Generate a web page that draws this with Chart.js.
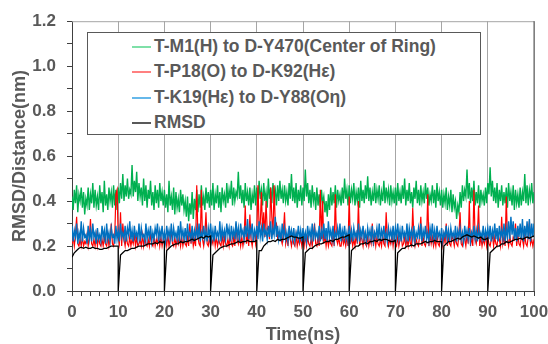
<!DOCTYPE html>
<html>
<head>
<meta charset="utf-8">
<script src="https://cdn.jsdelivr.net/npm/chart.js@4/dist/chart.umd.min.js"></script>
<style>
  html, body { margin: 0; padding: 0; background: #fff; overflow: hidden; }
  #wrap { position: relative; width: 548px; height: 344px; }
  #legend {
    position: absolute; left: 87px; top: 32px; width: 392px; height: 101px;
    border: 1px solid #595959; background: #fff;
    font: bold 17.5px "Liberation Sans", Arial, sans-serif; color: #595959;
  }
  .item { position: absolute; left: 44px; height: 20px; line-height: 20px; white-space: nowrap; }
  .item span { display: inline-block; width: 19px; height: 2px; vertical-align: middle; margin-right: 3px; }
</style>
</head>
<body>
<div id="wrap">
  <canvas id="myChart" width="548" height="344"></canvas>
  <div id="legend"></div>
</div>
<script>
// distances sampled every 0.25 ns (0..100 ns)
var distStep = 0.25;
// RMSD: ten 10 ns runs, sampled every 0.5 ns, each restarting from its reference frame
var rmsdStep = 0.5;
var runLength = 10;

var ringDist = [
  0.42,0.36,0.45,0.39,0.47,0.35,0.43,0.40,0.46,0.37,0.44,0.34,0.41,0.38,0.46,0.36,0.43,0.39,0.48,0.37,
  0.45,0.38,0.42,0.36,0.47,0.39,0.44,0.35,0.49,0.38,0.43,0.36,0.46,0.40,0.44,0.37,0.47,0.38,0.45,0.36,
  0.46,0.39,0.48,0.41,0.52,0.40,0.47,0.42,0.50,0.41,0.45,0.43,0.56,0.42,0.49,0.44,0.53,0.40,0.48,0.42,
  0.46,0.38,0.50,0.40,0.47,0.37,0.45,0.41,0.49,0.38,0.44,0.36,0.47,0.39,0.45,0.37,0.48,0.40,0.44,0.38,
  0.45,0.37,0.43,0.35,0.49,0.38,0.42,0.36,0.46,0.34,0.44,0.37,0.41,0.35,0.45,0.38,0.43,0.36,0.40,0.33,
  0.42,0.31,0.39,0.34,0.44,0.32,0.41,0.36,0.45,0.35,0.43,0.37,0.47,0.38,0.42,0.36,0.46,0.39,0.44,0.37,
  0.45,0.38,0.48,0.36,0.43,0.39,0.47,0.37,0.44,0.35,0.46,0.40,0.43,0.37,0.48,0.39,0.45,0.41,0.49,0.38,
  0.46,0.40,0.44,0.42,0.53,0.41,0.47,0.39,0.45,0.37,0.48,0.40,0.44,0.38,0.46,0.36,0.43,0.39,0.47,0.38,
  0.46,0.39,0.49,0.41,0.45,0.38,0.48,0.40,0.44,0.37,0.50,0.41,0.46,0.39,0.48,0.42,0.45,0.38,0.47,0.40,
  0.49,0.41,0.45,0.39,0.47,0.40,0.44,0.38,0.48,0.41,0.52,0.40,0.46,0.39,0.48,0.37,0.45,0.40,0.47,0.38,
  0.46,0.40,0.54,0.42,0.48,0.39,0.45,0.37,0.47,0.40,0.44,0.36,0.46,0.38,0.43,0.37,0.45,0.39,0.42,0.35,
  0.40,0.33,0.43,0.36,0.46,0.38,0.44,0.39,0.47,0.37,0.45,0.40,0.43,0.38,0.46,0.39,0.50,0.41,0.45,0.38,
  0.47,0.39,0.45,0.41,0.48,0.38,0.44,0.40,0.46,0.37,0.49,0.40,0.45,0.39,0.47,0.41,0.51,0.40,0.46,0.38,
  0.44,0.40,0.48,0.39,0.45,0.41,0.47,0.38,0.44,0.40,0.49,0.39,0.46,0.41,0.45,0.38,0.47,0.40,0.44,0.39,
  0.46,0.38,0.48,0.40,0.44,0.39,0.47,0.41,0.50,0.38,0.45,0.40,0.48,0.39,0.44,0.37,0.46,0.41,0.49,0.39,
  0.45,0.38,0.47,0.40,0.44,0.39,0.48,0.41,0.46,0.38,0.43,0.40,0.47,0.39,0.45,0.37,0.48,0.40,0.44,0.38,
  0.45,0.37,0.43,0.39,0.46,0.36,0.42,0.38,0.45,0.35,0.43,0.37,0.40,0.32,0.38,0.35,0.44,0.37,0.47,0.40,
  0.45,0.42,0.54,0.41,0.48,0.39,0.46,0.40,0.49,0.38,0.44,0.39,0.47,0.37,0.45,0.40,0.43,0.38,0.46,0.39,
  0.48,0.43,0.55,0.42,0.49,0.40,0.46,0.39,0.48,0.37,0.45,0.40,0.47,0.38,0.44,0.39,0.46,0.37,0.48,0.40,
  0.44,0.38,0.47,0.36,0.45,0.39,0.43,0.37,0.46,0.38,0.44,0.40,0.52,0.39,0.47,0.38,0.45,0.41,0.48,0.39,
  0.44
];

var p18Dist = [
  0.21,0.24,0.20,0.25,0.33,0.21,0.20,0.23,0.20,0.24,0.20,0.22,0.21,0.25,0.20,0.24,0.32,0.21,0.20,0.23,
  0.20,0.25,0.20,0.24,0.21,0.20,0.23,0.20,0.24,0.21,0.20,0.25,0.20,0.23,0.30,0.21,0.20,0.24,0.43,0.45,
  0.24,0.21,0.35,0.20,0.30,0.23,0.20,0.25,0.21,0.20,0.24,0.20,0.23,0.21,0.25,0.20,0.24,0.20,0.21,0.23,
  0.20,0.25,0.20,0.24,0.21,0.20,0.23,0.20,0.26,0.21,0.20,0.24,0.20,0.23,0.21,0.25,0.20,0.24,0.20,0.23,
  0.21,0.24,0.20,0.25,0.20,0.23,0.27,0.21,0.20,0.24,0.20,0.23,0.21,0.25,0.20,0.24,0.20,0.23,0.21,0.20,
  0.24,0.20,0.30,0.21,0.25,0.20,0.23,0.20,0.47,0.24,0.21,0.20,0.45,0.23,0.20,0.25,0.35,0.21,0.20,0.24,
  0.20,0.23,0.21,0.25,0.20,0.24,0.20,0.23,0.21,0.20,0.25,0.20,0.24,0.21,0.20,0.23,0.20,0.26,0.21,0.20,
  0.24,0.20,0.30,0.23,0.21,0.25,0.20,0.24,0.20,0.23,0.38,0.21,0.25,0.20,0.34,0.23,0.20,0.24,0.26,0.21,
  0.25,0.47,0.28,0.30,0.44,0.26,0.35,0.24,0.40,0.27,0.28,0.23,0.46,0.33,0.25,0.47,0.29,0.30,0.24,0.26,
  0.25,0.23,0.21,0.26,0.35,0.21,0.24,0.20,0.28,0.23,0.20,0.24,0.21,0.20,0.25,0.20,0.23,0.21,0.24,0.20,
  0.23,0.20,0.25,0.20,0.24,0.21,0.20,0.23,0.20,0.25,0.30,0.21,0.20,0.24,0.20,0.45,0.23,0.40,0.21,0.25,
  0.20,0.24,0.20,0.23,0.21,0.20,0.25,0.20,0.43,0.23,0.21,0.24,0.20,0.20,0.25,0.21,0.23,0.20,0.24,0.20,
  0.42,0.21,0.24,0.20,0.23,0.20,0.25,0.21,0.40,0.20,0.24,0.23,0.20,0.25,0.21,0.20,0.24,0.20,0.23,0.21,
  0.30,0.20,0.25,0.20,0.24,0.21,0.20,0.23,0.20,0.25,0.21,0.20,0.35,0.24,0.20,0.23,0.21,0.25,0.20,0.24,
  0.21,0.20,0.24,0.20,0.23,0.25,0.20,0.21,0.24,0.20,0.23,0.20,0.25,0.21,0.20,0.37,0.24,0.20,0.23,0.21,
  0.20,0.25,0.33,0.20,0.24,0.21,0.20,0.23,0.43,0.20,0.25,0.21,0.24,0.20,0.23,0.20,0.25,0.21,0.20,0.24,
  0.23,0.20,0.25,0.21,0.30,0.20,0.24,0.21,0.20,0.25,0.23,0.20,0.24,0.21,0.20,0.25,0.35,0.21,0.20,0.24,
  0.23,0.20,0.25,0.21,0.40,0.20,0.24,0.20,0.45,0.23,0.21,0.25,0.38,0.20,0.24,0.20,0.23,0.21,0.25,0.20,
  0.24,0.21,0.20,0.23,0.25,0.20,0.24,0.21,0.20,0.25,0.23,0.20,0.33,0.21,0.24,0.20,0.42,0.23,0.20,0.25,
  0.21,0.20,0.24,0.23,0.30,0.20,0.25,0.21,0.20,0.24,0.23,0.20,0.25,0.21,0.20,0.24,0.31,0.21,0.23,0.20,
  0.23
];

var k19Dist = [
  0.29,0.22,0.27,0.24,0.30,0.21,0.26,0.23,0.31,0.22,0.28,0.24,0.25,0.21,0.29,0.23,0.27,0.22,0.30,0.24,
  0.26,0.21,0.28,0.23,0.25,0.22,0.29,0.24,0.27,0.21,0.30,0.23,0.26,0.22,0.28,0.24,0.25,0.21,0.29,0.23,
  0.27,0.22,0.30,0.24,0.26,0.23,0.29,0.22,0.28,0.25,0.31,0.23,0.27,0.22,0.29,0.24,0.26,0.23,0.30,0.22,
  0.28,0.24,0.25,0.22,0.30,0.23,0.27,0.24,0.29,0.22,0.26,0.23,0.28,0.25,0.30,0.22,0.27,0.24,0.29,0.23,
  0.26,0.22,0.29,0.24,0.27,0.23,0.30,0.22,0.28,0.24,0.26,0.23,0.29,0.22,0.31,0.24,0.27,0.23,0.28,0.22,
  0.30,0.24,0.26,0.23,0.29,0.22,0.27,0.24,0.28,0.23,0.30,0.22,0.26,0.24,0.29,0.23,0.27,0.22,0.28,0.24,
  0.30,0.23,0.27,0.22,0.29,0.24,0.26,0.23,0.31,0.22,0.28,0.24,0.27,0.23,0.30,0.25,0.28,0.22,0.29,0.24,
  0.27,0.23,0.31,0.24,0.28,0.22,0.30,0.25,0.27,0.23,0.29,0.24,0.32,0.23,0.28,0.25,0.30,0.22,0.27,0.24,
  0.29,0.23,0.31,0.24,0.28,0.22,0.30,0.25,0.27,0.23,0.29,0.24,0.31,0.23,0.28,0.25,0.33,0.24,0.29,0.23,
  0.27,0.22,0.30,0.24,0.28,0.23,0.26,0.22,0.29,0.24,0.27,0.23,0.28,0.22,0.26,0.24,0.29,0.23,0.27,0.22,
  0.28,0.23,0.26,0.22,0.29,0.24,0.27,0.23,0.30,0.22,0.28,0.24,0.26,0.23,0.29,0.22,0.27,0.24,0.30,0.23,
  0.28,0.22,0.31,0.24,0.27,0.23,0.29,0.22,0.26,0.24,0.28,0.23,0.30,0.22,0.27,0.24,0.29,0.23,0.26,0.22,
  0.29,0.23,0.27,0.22,0.28,0.24,0.26,0.23,0.30,0.22,0.27,0.24,0.29,0.23,0.26,0.22,0.28,0.24,0.27,0.23,
  0.29,0.22,0.26,0.24,0.28,0.23,0.30,0.22,0.27,0.24,0.29,0.23,0.26,0.22,0.28,0.24,0.27,0.23,0.29,0.22,
  0.28,0.24,0.30,0.23,0.27,0.22,0.29,0.24,0.26,0.23,0.30,0.22,0.28,0.24,0.27,0.23,0.29,0.22,0.26,0.24,
  0.28,0.23,0.30,0.22,0.27,0.24,0.29,0.23,0.26,0.22,0.28,0.24,0.30,0.23,0.27,0.22,0.29,0.24,0.26,0.23,
  0.28,0.22,0.26,0.24,0.29,0.23,0.27,0.22,0.28,0.24,0.26,0.23,0.29,0.22,0.27,0.24,0.28,0.23,0.26,0.22,
  0.29,0.24,0.27,0.23,0.28,0.22,0.26,0.24,0.29,0.23,0.27,0.22,0.28,0.24,0.26,0.23,0.29,0.22,0.27,0.24,
  0.28,0.23,0.29,0.22,0.27,0.24,0.30,0.23,0.28,0.22,0.29,0.24,0.27,0.23,0.30,0.22,0.28,0.24,0.31,0.23,
  0.33,0.25,0.31,0.23,0.28,0.22,0.29,0.24,0.30,0.23,0.32,0.22,0.29,0.24,0.31,0.23,0.32,0.22,0.30,0.24,
  0.30
];

// one row per 10 ns run, t = 0, 0.5 ... 10 ns within the run
var rmsdRuns = [
  [0.15,0.17,0.18,0.19,0.195,0.19,0.195,0.19,0.19,0.195,0.19,0.19,0.185,0.185,0.19,0.19,0.195,0.20,0.20,0.20,0.20],
  [0,0.16,0.17,0.18,0.18,0.185,0.19,0.19,0.195,0.20,0.20,0.20,0.205,0.21,0.21,0.21,0.215,0.21,0.22,0.215,0.22],
  [0,0.18,0.19,0.20,0.205,0.21,0.21,0.22,0.215,0.22,0.22,0.225,0.23,0.225,0.23,0.235,0.24,0.235,0.245,0.24,0.245],
  [0,0.16,0.17,0.18,0.19,0.195,0.20,0.20,0.205,0.21,0.21,0.215,0.22,0.215,0.22,0.22,0.225,0.22,0.22,0.22,0.225],
  [0,0.18,0.18,0.20,0.21,0.22,0.22,0.225,0.22,0.23,0.225,0.23,0.23,0.235,0.24,0.245,0.24,0.24,0.235,0.235,0.24],
  [0,0.17,0.18,0.19,0.19,0.20,0.205,0.21,0.21,0.215,0.22,0.22,0.225,0.22,0.23,0.23,0.235,0.24,0.24,0.245,0.25],
  [0,0.18,0.19,0.20,0.20,0.21,0.21,0.215,0.21,0.22,0.22,0.225,0.22,0.23,0.225,0.23,0.23,0.225,0.22,0.22,0.225],
  [0,0.17,0.18,0.19,0.19,0.20,0.20,0.205,0.20,0.21,0.21,0.21,0.215,0.22,0.215,0.22,0.22,0.225,0.22,0.22,0.22],
  [0,0.20,0.21,0.22,0.22,0.225,0.23,0.235,0.23,0.24,0.245,0.25,0.245,0.24,0.245,0.24,0.235,0.24,0.23,0.23,0.235],
  [0,0.17,0.18,0.19,0.20,0.20,0.21,0.21,0.22,0.215,0.22,0.225,0.23,0.23,0.235,0.23,0.235,0.24,0.235,0.24,0.245]
];

var seriesLabels = [
  "T-M1(H) to D-Y470(Center of Ring)",
  "T-P18(O) to D-K92(Hε)",
  "T-K19(Hε) to D-Y88(Oη)",
  "RMSD"
];
var seriesColors = ["#00b050", "#ff0000", "#0070c0", "#000000"];
var legendColors = ["#7fe0a8", "#ff8080", "#66b8ea", "#595959"];
var lineWidths = [1.4, 1.2, 1.4, 1.3];
var drawOrder = [3, 2, 1, 0];

function toPoints(arr, step) {
  return arr.map(function (v, i) { return { x: i * step, y: v }; });
}

function runPoints(runs) {
  var pts = [];
  runs.forEach(function (run, k) {
    run.forEach(function (v, i) {
      pts.push({ x: k * runLength + i * rmsdStep, y: v });
    });
  });
  return pts;
}

var textColor = "#595959";
var fontFam = "'Liberation Sans', Arial, sans-serif";

// top and right frame lines
var frame = {
  id: "frame",
  beforeDatasetsDraw: function (chart) {
    var a = chart.chartArea, c = chart.ctx;
    c.save();
    c.lineWidth = 1;
    c.strokeStyle = "#a6a6a6";
    c.beginPath();
    c.moveTo(a.left, a.top + 0.5);
    c.lineTo(a.right, a.top + 0.5);
    c.stroke();
    c.strokeStyle = "#595959";
    c.beginPath();
    c.moveTo(a.right, a.top);
    c.lineTo(a.right, a.bottom);
    c.stroke();
    c.restore();
  }
};

var pointSets = [
  toPoints(ringDist, distStep),
  toPoints(p18Dist, distStep),
  toPoints(k19Dist, distStep),
  runPoints(rmsdRuns)
];

var ctx = document.getElementById("myChart").getContext("2d");
var myChart = new Chart(ctx, {
  type: "line",
  data: {
    datasets: pointSets.map(function (pts, k) {
      return {
        label: seriesLabels[k],
        data: pts,
        borderColor: seriesColors[k],
        borderWidth: lineWidths[k],
        pointRadius: 0,
        tension: 0,
        order: drawOrder[k]
      };
    })
  },
  options: {
    responsive: false,
    animation: false,
    layout: { padding: { top: 21, left: 0, right: 0, bottom: 0 } },
    plugins: { legend: { display: false }, tooltip: { enabled: false } },
    scales: {
      x: {
        type: "linear",
        min: 0,
        max: 100,
        afterFit: function (s) { s.height = 53; s.paddingLeft = 0; s.paddingRight = 14; },
        ticks: {
          stepSize: 2,
          autoSkip: false,
          maxRotation: 0,
          padding: 6,
          color: textColor,
          font: { family: fontFam, size: 17, weight: "bold" },
          callback: function (v) { return v % 10 === 0 ? String(v) : ""; }
        },
        grid: {
          color: function (c) { return c.tick && c.tick.value % 10 === 0 ? "#a6a6a6" : "rgba(0,0,0,0)"; },
          tickColor: "#404040",
          tickLength: 5,
          lineWidth: 1
        },
        border: { color: "#404040", width: 1 },
        title: {
          display: true,
          text: "Time(ns)",
          color: textColor,
          font: { family: fontFam, size: 18, weight: "bold", lineHeight: 1 },
          padding: { top: 4, bottom: 0 }
        }
      },
      y: {
        min: 0,
        max: 1.2,
        afterFit: function (s) { s.width = 72; },
        ticks: {
          stepSize: 0.1,
          autoSkip: false,
          padding: 11,
          color: textColor,
          font: { family: fontFam, size: 17, weight: "bold" },
          callback: function (v) { return Math.round(v * 10) % 2 === 0 ? v.toFixed(1) : ""; }
        },
        grid: {
          drawOnChartArea: false,
          tickColor: "#404040",
          tickLength: 5
        },
        border: { color: "#404040", width: 1 },
        title: {
          display: true,
          text: "RMSD/Distance(nm)",
          color: textColor,
          font: { family: fontFam, size: 18, weight: "bold", lineHeight: 1 },
          padding: { top: 11, bottom: 3 }
        }
      }
    }
  },
  plugins: [frame]
});

// legend box inside the plot
var rowTops = [3, 28, 54, 79];
var legendEl = document.getElementById("legend");
myChart.data.datasets.forEach(function (ds, k) {
  var item = document.createElement("div");
  item.className = "item";
  item.style.top = rowTops[k] + "px";
  var sw = document.createElement("span");
  sw.style.background = legendColors[k];
  item.appendChild(sw);
  item.appendChild(document.createTextNode(ds.label));
  legendEl.appendChild(item);
});
</script>
</body>
</html>
